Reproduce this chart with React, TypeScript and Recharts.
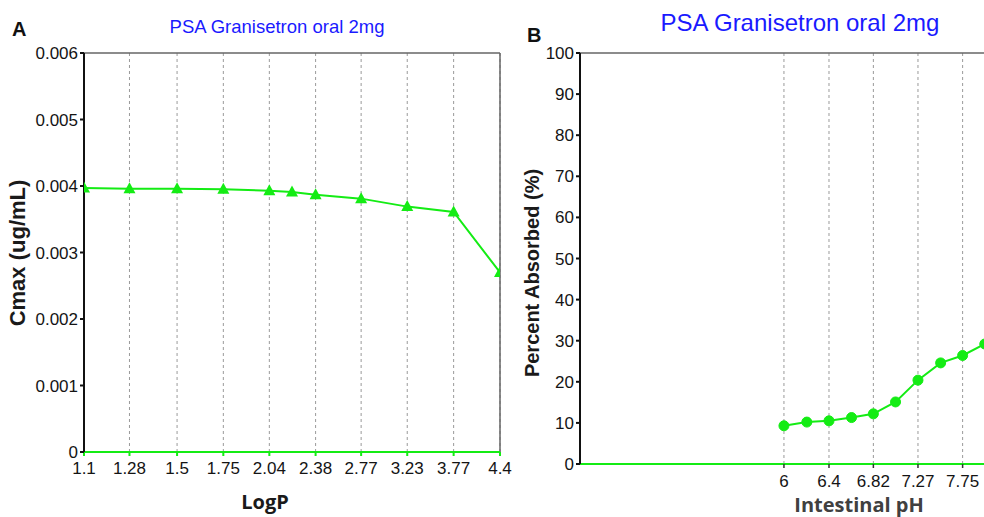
import React from 'react';
import { LineChart, Line, XAxis, YAxis, CartesianGrid, ReferenceLine } from 'recharts';

// Panel A: Cmax vs LogP
const logPTicks = [1.1, 1.28, 1.5, 1.75, 2.04, 2.38, 2.77, 3.23, 3.77, 4.4];
const logPValues = [1.1, 1.28, 1.5, 1.75, 2.04, 2.2, 2.38, 2.77, 3.23, 3.77, 4.4];
const cmaxValues = [0.00397, 0.00396, 0.00396, 0.00395, 0.00393, 0.00391, 0.00387, 0.00381, 0.00369, 0.00361, 0.0027];
const cmaxTicks = [0, 0.001, 0.002, 0.003, 0.004, 0.005, 0.006];

// Panel B: Percent absorbed vs intestinal pH
const phTicks = [6, 6.4, 6.82, 7.27, 7.75];
const phValues = [6, 6.2, 6.4, 6.61, 6.82, 7.04, 7.27, 7.51, 7.75, 8.0];
const absorbedValues = [9.3, 10.2, 10.5, 11.3, 12.2, 15.1, 20.4, 24.6, 26.4, 29.2];
const absorbedTicks = [0, 10, 20, 30, 40, 50, 60, 70, 80, 90, 100];

const dataA = logPValues.map((logP, i) => ({ logP, cmax: cmaxValues[i] }));
const dataB = phValues.map((ph, i) => ({ ph, absorbed: absorbedValues[i] }));

const GREEN = '#14ec14';
const ARIAL = '"Liberation Sans", Arial, sans-serif';
const tickStyle = { fill: '#141414', fontSize: 17, fontFamily: ARIAL };

const Triangle = (props: any) => {
  const { cx, cy, index } = props;
  if (cx == null || cy == null) return null;
  return (
    <polygon
      key={`tri-${index}`}
      points={`${cx},${cy - 6.5} ${cx - 6},${cy + 4.5} ${cx + 6},${cy + 4.5}`}
      fill={GREEN}
    />
  );
};

const abs = (style: React.CSSProperties): React.CSSProperties => ({
  position: 'absolute',
  whiteSpace: 'nowrap',
  lineHeight: 1,
  ...style,
});

export default function App() {
  return (
    <div
      style={{
        position: 'absolute',
        left: 0,
        top: 0,
        width: 984,
        height: 517,
        overflow: 'hidden',
        background: '#fff',
        fontFamily: ARIAL,
      }}
    >
      {/* Panel A */}
      <div style={{ position: 'absolute', left: 0, top: 0 }}>
        <LineChart width={520} height={517} data={dataA} margin={{ top: 53, right: 20, bottom: 0, left: 0 }}>
          <CartesianGrid horizontal={false} stroke="#9a9a9a" strokeDasharray="3 3" />
          <XAxis
            dataKey="logP"
            type="number"
            scale="log"
            domain={[1.1, 4.4]}
            ticks={logPTicks}
            allowDataOverflow
            height={65}
            axisLine={{ stroke: GREEN, strokeWidth: 2 }}
            tickLine={{ stroke: GREEN, strokeWidth: 2 }}
            tickSize={4}
            tickMargin={6}
            tick={tickStyle}
            interval={0}
          />
          <YAxis
            type="number"
            domain={[0, 0.006]}
            ticks={cmaxTicks}
            width={84}
            axisLine={{ stroke: '#111', strokeWidth: 2 }}
            tickLine={{ stroke: '#111', strokeWidth: 2 }}
            tickSize={4}
            tickMargin={2}
            tick={tickStyle}
            tickFormatter={(v: number) => (v === 0 ? '0' : v.toFixed(3))}
            interval={0}
          />
          <ReferenceLine y={0.006} stroke="#666" strokeWidth={1.5} />
          <ReferenceLine x={4.4} stroke="#666" strokeWidth={1.5} />
          <Line
            dataKey="cmax"
            stroke={GREEN}
            strokeWidth={2}
            dot={Triangle}
            activeDot={false}
            isAnimationActive={false}
          />
        </LineChart>
      </div>

      {/* Panel B */}
      <div style={{ position: 'absolute', left: 500, top: 0 }}>
        <LineChart width={567} height={517} data={dataB} margin={{ top: 53, right: 0, bottom: 0, left: 0 }}>
          <CartesianGrid horizontal={false} stroke="#9a9a9a" strokeDasharray="3 3" />
          <XAxis
            dataKey="ph"
            type="number"
            scale="log"
            domain={[4.48, 9]}
            ticks={phTicks}
            allowDataOverflow
            height={53}
            axisLine={{ stroke: GREEN, strokeWidth: 2 }}
            tickLine={{ stroke: '#333', strokeWidth: 1.5 }}
            tickSize={4}
            tickMargin={7}
            tick={tickStyle}
            interval={0}
          />
          <YAxis
            type="number"
            domain={[0, 100]}
            ticks={absorbedTicks}
            width={80}
            axisLine={{ stroke: '#111', strokeWidth: 2 }}
            tickLine={{ stroke: '#111', strokeWidth: 2 }}
            tickSize={4}
            tickMargin={2}
            tick={tickStyle}
            interval={0}
          />
          <ReferenceLine y={100} stroke="#666" strokeWidth={1.5} />
          <Line
            dataKey="absorbed"
            stroke={GREEN}
            strokeWidth={2}
            dot={{ r: 5, fill: GREEN, stroke: GREEN, strokeWidth: 1 }}
            activeDot={false}
            isAnimationActive={false}
          />
        </LineChart>
      </div>

      {/* Panel letters */}
      <div style={abs({ left: 12, top: 19, fontSize: 20, fontWeight: 700, color: '#111' })}>A</div>
      <div style={abs({ left: 527, top: 25, fontSize: 20, fontWeight: 700, color: '#111' })}>B</div>

      {/* Titles */}
      <div style={abs({ left: 277, top: 27, transform: 'translate(-50%, -50%)', fontSize: 18.5, color: '#1a1aff' })}>
        PSA Granisetron oral 2mg
      </div>
      <div style={abs({ left: 800, top: 23, transform: 'translate(-50%, -50%)', fontSize: 24, color: '#1a1aff' })}>
        PSA Granisetron oral 2mg
      </div>

      {/* Axis titles */}
      <div
        style={abs({
          left: 18,
          top: 253,
          transform: 'translate(-50%, -50%) rotate(-90deg)',
          fontSize: 22,
          fontWeight: 700,
          color: '#1a1a1a',
        })}
      >
        Cmax (ug/mL)
      </div>
      <div
        style={abs({
          left: 532,
          top: 273,
          transform: 'translate(-50%, -50%) rotate(-90deg)',
          fontSize: 20,
          fontWeight: 700,
          color: '#1a1a1a',
        })}
      >
        Percent Absorbed (%)
      </div>
      <div
        style={abs({
          left: 265,
          top: 502,
          transform: 'translate(-50%, -50%)',
          fontSize: 20,
          fontWeight: 700,
          fontFamily: '"Open Sans", sans-serif',
          color: '#1a1a1a',
        })}
      >
        LogP
      </div>
      <div
        style={abs({
          left: 859,
          top: 505,
          transform: 'translate(-50%, -50%)',
          fontSize: 20,
          fontWeight: 700,
          fontFamily: '"Open Sans", sans-serif',
          color: '#404040',
        })}
      >
        Intestinal pH
      </div>
    </div>
  );
}
